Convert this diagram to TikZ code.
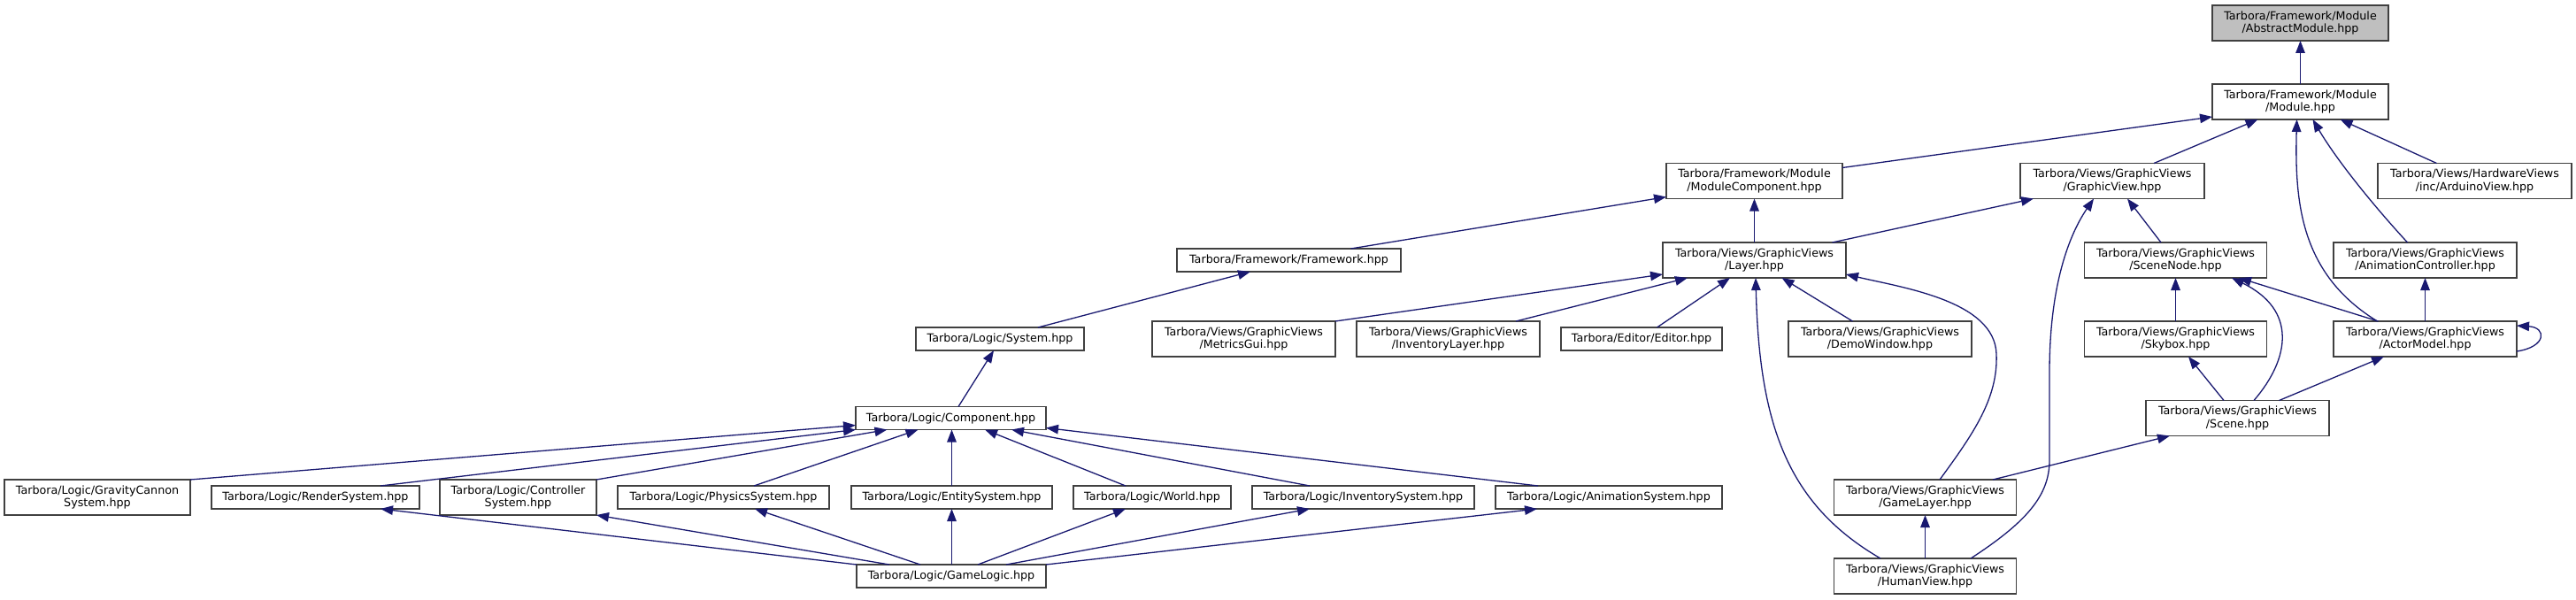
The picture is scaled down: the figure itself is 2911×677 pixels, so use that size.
\documentclass[tikz,border=0pt]{standalone}
\usepackage{fontspec}
\setmainfont{DejaVu Sans}
\usetikzlibrary{arrows.meta,calc}
\definecolor{edgecol}{HTML}{191970}
\definecolor{boxcol}{HTML}{404040}
\definecolor{rootfill}{HTML}{BFBFBF}
\begin{document}
\begin{tikzpicture}[x=1pt,y=-1pt,
  box/.style={draw=boxcol, line width=1.4pt, fill=white, inner sep=0pt, outer sep=0pt,
    align=center, font=\fontsize{12.7}{14.7}\selectfont, text=black},
  two/.style={box, minimum height=40pt},
  one/.style={box, minimum height=26pt},
  dep/.style={draw=edgecol, line width=1.3pt, -{Triangle[length=14pt,width=10.5pt]}}]
\useasboundingbox (0,0) rectangle (2911,677);

% rank 0-1
\node[two, fill=rootfill, minimum width=199pt] (abs) at (2599.5,26) {Tarbora/Framework/Module\\/AbstractModule.hpp};
\node[two, minimum width=199pt] (mod) at (2599.5,115) {Tarbora/Framework/Module\\/Module.hpp};
% rank 2
\node[two, minimum width=199pt] (modcomp) at (1982.5,204.5) {Tarbora/Framework/Module\\/ModuleComponent.hpp};
\node[two, minimum width=208pt] (gview) at (2387,204.5) {Tarbora/Views/GraphicViews\\/GraphicView.hpp};
\node[two, minimum width=219pt] (ard) at (2796.5,204.5) {Tarbora/Views/HardwareViews\\/inc/ArduinoView.hpp};
% rank 3
\node[one, minimum width=253pt] (fw) at (1456.5,294) {Tarbora/Framework/Framework.hpp};
\node[two, minimum width=207pt] (layer) at (1982.5,294) {Tarbora/Views/GraphicViews\\/Layer.hpp};
\node[two, minimum width=206pt] (snode) at (2458.5,294) {Tarbora/Views/GraphicViews\\/SceneNode.hpp};
\node[two, minimum width=207pt] (anim) at (2740.5,294) {Tarbora/Views/GraphicViews\\/AnimationController.hpp};
% rank 4
\node[one, minimum width=190pt] (sys) at (1130,383) {Tarbora/Logic/System.hpp};
\node[two, minimum width=207pt] (metrics) at (1405.5,383) {Tarbora/Views/GraphicViews\\/MetricsGui.hpp};
\node[two, minimum width=207pt] (invlayer) at (1636.5,383) {Tarbora/Views/GraphicViews\\/InventoryLayer.hpp};
\node[one, minimum width=182pt] (editor) at (1855,383) {Tarbora/Editor/Editor.hpp};
\node[two, minimum width=207pt] (demo) at (2124.5,383) {Tarbora/Views/GraphicViews\\/DemoWindow.hpp};
\node[two, minimum width=206pt] (skybox) at (2458.5,383) {Tarbora/Views/GraphicViews\\/Skybox.hpp};
\node[two, minimum width=207pt] (actor) at (2740.5,383) {Tarbora/Views/GraphicViews\\/ActorModel.hpp};
% rank 5
\node[one, minimum width=215pt] (comp) at (1074.5,472.5) {Tarbora/Logic/Component.hpp};
\node[two, minimum width=207pt] (scene) at (2528.5,472.5) {Tarbora/Views/GraphicViews\\/Scene.hpp};
% rank 6
\node[two, minimum width=210pt] (grav) at (110,562) {Tarbora/Logic/GravityCannon\\System.hpp};
\node[one, minimum width=235pt] (render) at (356.5,562) {Tarbora/Logic/RenderSystem.hpp};
\node[two, minimum width=177pt] (ctrl) at (585.5,562) {Tarbora/Logic/Controller\\System.hpp};
\node[one, minimum width=239pt] (phys) at (817.5,562) {Tarbora/Logic/PhysicsSystem.hpp};
\node[one, minimum width=227pt] (entity) at (1075.5,562) {Tarbora/Logic/EntitySystem.hpp};
\node[one, minimum width=178pt] (world) at (1302,562) {Tarbora/Logic/World.hpp};
\node[one, minimum width=251pt] (invsys) at (1540.5,562) {Tarbora/Logic/InventorySystem.hpp};
\node[one, minimum width=256pt] (animsys) at (1818,562) {Tarbora/Logic/AnimationSystem.hpp};
\node[two, minimum width=206pt] (gamelayer) at (2175.5,562) {Tarbora/Views/GraphicViews\\/GameLayer.hpp};
% rank 7
\node[one, minimum width=214pt] (gamelogic) at (1075,651) {Tarbora/Logic/GameLogic.hpp};
\node[two, minimum width=206pt] (human) at (2175.5,651) {Tarbora/Views/GraphicViews\\/HumanView.hpp};

% edges
\draw[dep] (mod) -- (abs);
\draw[dep] ($(modcomp.north east)+(0,5)$) -- ($(mod.south west)+(0,-3)$);
\draw[dep] ($(gview.north)+(47,0)$) -- ($(mod.south)+(-48,0)$);
\draw[dep] ($(actor.north)+(-54,0)$) .. controls (2600,310) and (2593,230) .. ($(mod.south)+(-4,0)$);
\draw[dep] ($(anim.north)+(-20,0)$) .. controls (2680,230) and (2640,180) .. ($(mod.south)+(14,0)$);
\draw[dep] ($(ard.north)+(-43,0)$) -- ($(mod.south)+(45,0)$);
\draw[dep] ($(fw.north)+(70,0)$) -- ($(modcomp.south west)+(0,-2)$);
\draw[dep] (layer) -- (modcomp);
\draw[dep] ($(layer.north)+(88,0)$) -- ($(gview.south)+(-89,0)$);
\draw[dep] ($(human.north)+(51.5,0)$) .. controls (2290,590) and (2316,560) .. (2316,520) -- (2316,420) .. controls (2316,330) and (2335,270) .. ($(gview.south)+(-21,0)$);
\draw[dep] ($(snode.north)+(-16.5,0)$) -- ($(gview.south)+(17,0)$);
\draw[dep] ($(sys.north)+(43,0)$) -- ($(fw.south)+(-43.5,0)$);
\draw[dep] ($(comp.north)+(8.5,0)$) -- ($(sys.south)+(-7,0)$);
\draw[dep] (metrics.north east) -- ($(layer.south west)+(0,-4)$);
\draw[dep] ($(invlayer.north)+(76.5,0)$) -- ($(layer.south)+(-75.5,0)$);
\draw[dep] ($(editor.north)+(17.5,0)$) -- ($(layer.south)+(-27.5,0)$);
\draw[dep] ($(demo.north)+(-31,0)$) -- ($(layer.south)+(31,0)$);
\draw[dep] ($(gamelayer.north)+(16.5,0)$) .. controls (2230,490) and (2258,450) .. (2256,400) .. controls (2254,340) and (2150,325) .. ($(layer.south east)+(0,-4)$);
\draw[dep] ($(human.north)+(-50.5,0)$) .. controls (2020,570) and (1988,480) .. ($(layer.south)+(1.5,0)$);
\draw[dep] (skybox) -- (snode);
\draw[dep] ($(scene.north)+(18.5,0)$) .. controls (2588,405) and (2596,350) .. ($(snode.south)+(63.5,0)$);
\draw[dep] ($(actor.north)+(-53,0)$) -- ($(snode.south)+(71.5,0)$);
\draw[dep] (actor) -- (anim);
\draw[dep] ($(actor.east)+(0,14)$) .. controls (2878,392) and (2878,370) .. ($(actor.east)+(0,-15)$);
\draw[dep] ($(scene.north)+(-15.5,0)$) -- ($(skybox.south)+(14.5,0)$);
\draw[dep] ($(scene.north)+(47,0)$) -- ($(actor.south)+(-46.5,0)$);
\draw[dep] ($(gamelayer.north)+(76.5,0)$) -- ($(scene.south)+(-76.5,0)$);
\draw[dep] (human) -- (gamelayer);

\draw[dep] (grav.north east) -- ($(comp.south west)+(0,-5)$);
\draw[dep] ($(render.north)+(73.5,0)$) -- (comp.south west);
\draw[dep] (ctrl.north east) -- ($(comp.south)+(-72,0)$);
\draw[dep] ($(phys.north)+(34.5,0)$) -- ($(comp.south)+(-37,0)$);
\draw[dep] (entity.north) -- ($(comp.south)+(1,0)$);
\draw[dep] ($(world.north)+(-30,0)$) -- ($(comp.south)+(38.5,0)$);
\draw[dep] ($(invsys.north)+(-60.5,0)$) -- ($(comp.south)+(68.5,0)$);
\draw[dep] ($(animsys.north)+(-80,0)$) -- ($(comp.south east)+(0,-2)$);
\draw[dep] (gamelogic.north west) -- ($(render.south)+(73.5,0)$);
\draw[dep] ($(gamelogic.north)+(-70,0)$) -- (ctrl.south east);
\draw[dep] ($(gamelogic.north)+(-35,0)$) -- ($(phys.south)+(35.5,0)$);
\draw[dep] ($(gamelogic.north)+(0.5,0)$) -- (entity.south);
\draw[dep] ($(gamelogic.north)+(30,0)$) -- ($(world.south)+(-30,0)$);
\draw[dep] ($(gamelogic.north)+(62,0)$) -- ($(invsys.south)+(-60.5,0)$);
\draw[dep] (gamelogic.north east) -- ($(animsys.south)+(-81,0)$);
\end{tikzpicture}
\end{document}
